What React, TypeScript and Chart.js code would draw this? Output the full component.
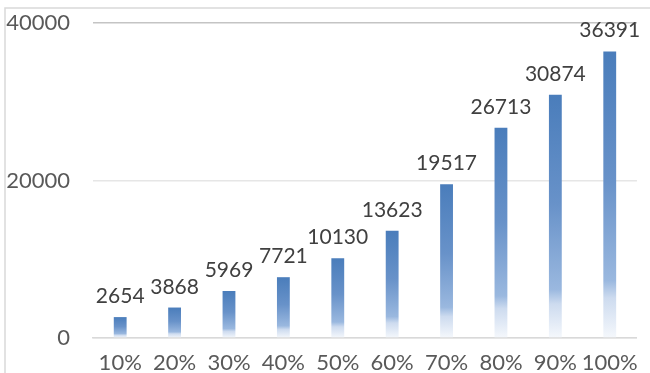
import React, { useEffect, useRef } from "react";
import { Chart, registerables } from "chart.js";

Chart.register(...registerables);

const categories = ["10%", "20%", "30%", "40%", "50%", "60%", "70%", "80%", "90%", "100%"];
const values = [2654, 3868, 5969, 7721, 10130, 13623, 19517, 26713, 30874, 36391];
const yTicks = [0, 20000, 40000];

const TEXT = "#595959";
const LABEL = "#404040";
const FONT = "Lato";

// Light outer frame of the chart object
const framePlugin = {
  id: "frame",
  beforeDraw(chart: any) {
    const c = chart.ctx;
    c.save();
    c.fillStyle = "#ffffff";
    c.fillRect(0, 0, chart.width, chart.height);
    c.strokeStyle = "#d9d9d9";
    c.lineWidth = 1.5;
    c.strokeRect(5, 8, chart.width + 20, chart.height + 20);
    c.restore();
  },
};

// Value labels above each bar
const valueLabels = {
  id: "valueLabels",
  afterDatasetsDraw(chart: any) {
    const c = chart.ctx;
    const meta = chart.getDatasetMeta(0);
    c.save();
    c.fillStyle = LABEL;
    c.font = `21px ${FONT}`;
    c.textAlign = "center";
    c.textBaseline = "alphabetic";
    meta.data.forEach((bar: any, i: number) => {
      c.fillText(String(values[i]), bar.x, bar.y - 14);
    });
    c.restore();
  },
};

function barFill(ctx: any) {
  const chart = ctx.chart;
  if (ctx.type !== "data" || !chart.chartArea) return "#4a7dbb";
  const y = chart.scales.y;
  const top = y.getPixelForValue(ctx.raw);
  const bottom = y.getPixelForValue(0);
  const g = chart.ctx.createLinearGradient(0, top, 0, bottom);
  g.addColorStop(0, "#4a7dbb");
  g.addColorStop(0.45, "#6892c9");
  g.addColorStop(0.8, "#9ab8df");
  g.addColorStop(0.86, "#cddbef");
  g.addColorStop(1, "#f5f8fc");
  return g;
}

export default function App() {
  const ref = useRef<HTMLCanvasElement>(null);

  useEffect(() => {
    if (!ref.current) return;
    const chart = new Chart(ref.current, {
      type: "bar",
      data: {
        labels: categories,
        datasets: [
          {
            data: values,
            backgroundColor: barFill as any,
            borderWidth: 0,
            barPercentage: 0.236,
            categoryPercentage: 1,
          },
        ],
      },
      options: {
        animation: false,
        responsive: false,
        layout: { padding: { top: 23, right: 6, left: 0, bottom: 0 } },
        plugins: { legend: { display: false }, tooltip: { enabled: false } },
        scales: {
          x: {
            grid: { display: false, drawTicks: false },
            border: { display: true, color: "#d9d9d9", width: 1.5 },
            ticks: {
              color: TEXT,
              font: { family: FONT, size: 22 },
              padding: 12,
              maxRotation: 0,
              autoSkip: false,
            },
            afterFit(s: any) {
              s.height = 35;
            },
          },
          y: {
            min: 0,
            max: 40000,
            afterBuildTicks(s: any) {
              s.ticks = yTicks.map((v) => ({ value: v }));
            },
            grid: {
              drawTicks: false,
              color: (c: any) => (c.tick && c.tick.value === 40000 ? "#c4c4c4" : "#e6e6e6"),
              lineWidth: 1.5,
            },
            border: { display: false },
            ticks: {
              color: TEXT,
              font: { family: FONT, size: 22 },
              padding: 23,
              callback: (v: any) => String(v),
            },
            afterFit(s: any) {
              s.width = 93;
              s.paddingTop = 0;
              s.paddingBottom = 0;
            },
          },
        },
      },
      plugins: [framePlugin, valueLabels],
    });
    return () => chart.destroy();
  }, []);

  return (
    <div style={{ position: "absolute", left: 0, top: 0, width: 650, height: 373 }}>
      <canvas ref={ref} width={650} height={373} />
    </div>
  );
}
